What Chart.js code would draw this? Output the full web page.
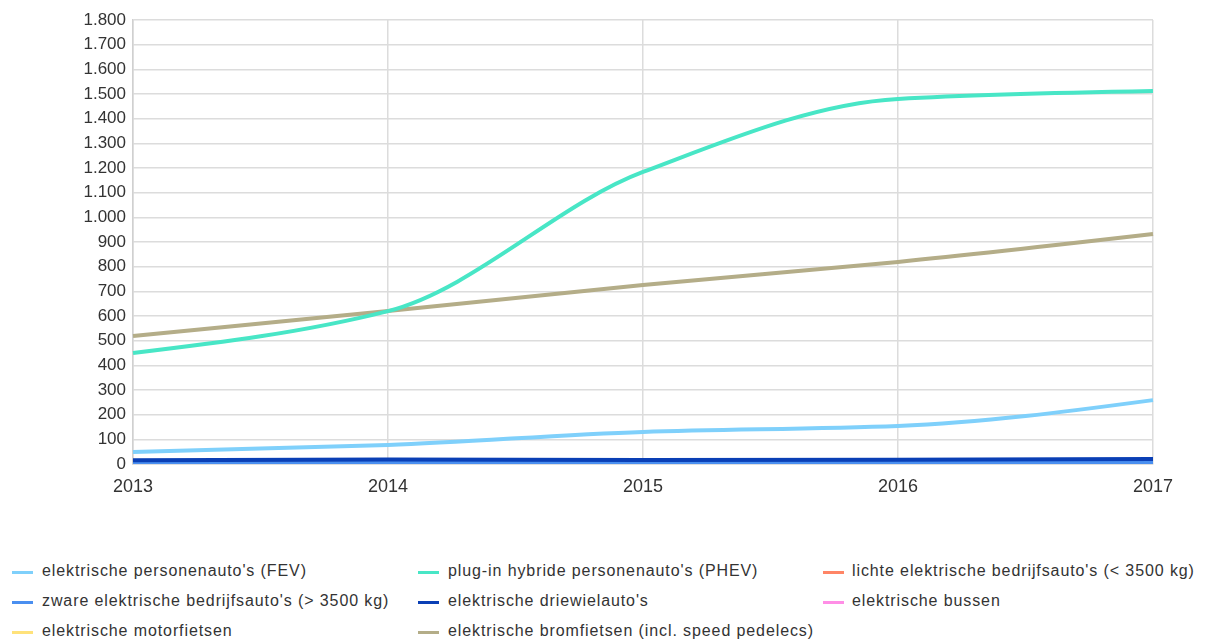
<!DOCTYPE html>
<html>
<head>
<meta charset="utf-8">
<script src="https://cdn.jsdelivr.net/npm/chart.js@4.4.1/dist/chart.umd.min.js"></script>
<style>
  html, body { margin: 0; padding: 0; background: #fff; }
  #wrap { position: relative; width: 1205px; height: 643px; }
  #chartBox { position: absolute; left: 0; top: 0; width: 1205px; height: 510px; }
  .legend-item { position: absolute; height: 20px; font-family: "Liberation Sans", Arial, sans-serif; font-size: 16px; letter-spacing: 0.9px; color: #333; white-space: nowrap; }
  .legend-item .swatch { position: absolute; left: 0; top: 9px; width: 21px; height: 3px; }
  .legend-item .label { position: absolute; top: 0px; }
</style>
</head>
<body>
<div id="wrap">
  <div id="chartBox"><canvas id="myChart"></canvas></div>
  <div id="legend"></div>
</div>
<script>
// data
const years = ["2013", "2014", "2015", "2016", "2017"];

const fev = [49, 77, 130, 154, 259];
const phev = [450, 620, 1184, 1480, 1512];
const lichte = [8, 10, 10, 11, 14];
const zware = [3, 4, 4, 5, 6];
const driewiel = [15, 18, 16, 17, 20];
const bussen = [1, 2, 2, 3, 4];
const motorfietsen = [2, 3, 3, 4, 5];
const bromfietsen = [519, 620, 726, 819, 932];

const seriesNames = [
    "elektrische personenauto's (FEV)",
    "plug-in hybride personenauto's (PHEV)",
    "lichte elektrische bedrijfsauto's (< 3500 kg)",
    "zware elektrische bedrijfsauto's (> 3500 kg)",
    "elektrische driewielauto's",
    "elektrische bussen",
    "elektrische motorfietsen",
    "elektrische bromfietsen (incl. speed pedelecs)"
];
const seriesValues = [fev, phev, lichte, zware, driewiel, bussen, motorfietsen, bromfietsen];
const seriesColors = ["#7fd0fb", "#48e6c6", "#ff8566", "#4a8ff0", "#0a3fb5", "#ff8ee6", "#ffe27a", "#b4ad88"];

// draw order: small ones first so the big lines sit on top
const drawOrder = [6, 5, 2, 3, 4, 0, 7, 1];

const yTicks = [];
for (let v = 0; v <= 1800; v += 100) yTicks.push(v);

function fmt(v) {
    return v.toString().replace(/\B(?=(\d{3})+(?!\d))/g, ".");
}

// smoother curve: tangents = harmonic mean of neighbouring slopes (flatter at the knees)
const harmonicSpline = {
    id: "harmonicSpline",
    beforeDatasetDraw(chart, args) {
        const line = args.meta.dataset;
        const pts = args.meta.data;
        const n = pts.length;
        if (!line || n < 3) return;
        const s = [];
        for (let i = 0; i < n - 1; i++) {
            s.push((pts[i + 1].y - pts[i].y) / (pts[i + 1].x - pts[i].x));
        }
        const m = new Array(n).fill(0);
        for (let i = 1; i < n - 1; i++) {
            m[i] = s[i - 1] * s[i] > 0 ? 2 * s[i - 1] * s[i] / (s[i - 1] + s[i]) : 0;
        }
        m[0] = (3 * s[0] - m[1]) / 2;
        if (m[0] * s[0] < 0) m[0] = 0;
        m[n - 1] = (3 * s[n - 2] - m[n - 2]) / 2;
        if (m[n - 1] * s[n - 2] < 0) m[n - 1] = 0;
        for (let i = 0; i < n; i++) {
            const p = pts[i];
            const hPrev = i > 0 ? (p.x - pts[i - 1].x) / 3 : 0;
            const hNext = i < n - 1 ? (pts[i + 1].x - p.x) / 3 : 0;
            p.cp1x = p.x - hPrev;
            p.cp1y = p.y - m[i] * hPrev;
            p.cp2x = p.x + hNext;
            p.cp2y = p.y + m[i] * hNext;
        }
        line._pointsUpdated = true;
        line._path = undefined;
    }
};

/////////////////////////////// chart ///////////////////////////////
const ctx = document.getElementById("myChart").getContext("2d");
new Chart(ctx, {
    type: "line",
    data: {
        labels: years,
        datasets: seriesNames.map((name, i) => ({
            label: name,
            data: seriesValues[i],
            borderColor: seriesColors[i],
            backgroundColor: seriesColors[i],
            borderWidth: 4,
            pointRadius: 0,
            tension: 0.4,
            order: drawOrder.length - drawOrder.indexOf(i)
        }))
    },
    plugins: [harmonicSpline],
    options: {
        responsive: true,
        maintainAspectRatio: false,
        animation: false,
        layout: { padding: { top: 20, right: 52, left: 0, bottom: 0 } },
        plugins: {
            legend: { display: false },
            tooltip: { enabled: false }
        },
        scales: {
            x: {
                offset: false,
                grid: { color: "#dcdcdc", lineWidth: 1.5, drawTicks: false },
                border: { color: "#d0d0d0", width: 1.5 },
                ticks: {
                    color: "#333",
                    padding: 12,
                    maxRotation: 0,
                    font: { family: "'Liberation Sans', Arial, sans-serif", size: 18 }
                },
                afterFit: scale => { scale.height = 46; }
            },
            y: {
                min: 0,
                max: 1800,
                afterBuildTicks: scale => { scale.ticks = yTicks.map(v => ({ value: v })); },
                grid: { color: "#dcdcdc", lineWidth: 1.5, drawTicks: false },
                border: { color: "#d0d0d0", width: 1.5 },
                ticks: {
                    color: "#333",
                    padding: 7,
                    callback: v => fmt(v),
                    font: { family: "'Liberation Sans', Arial, sans-serif", size: 17 }
                },
                afterFit: scale => { scale.width = 133; }
            }
        }
    }
});

/////////////////////////////// legend ///////////////////////////////
const legend = document.getElementById("legend");
const colX = [12, 418, 823];
const rowY = [562, 592, 622];
const textOffset = [30, 30, 29];
seriesNames.forEach((name, i) => {
    const col = i % 3, row = Math.floor(i / 3);
    const item = document.createElement("div");
    item.className = "legend-item";
    item.style.left = colX[col] + "px";
    item.style.top = rowY[row] + "px";
    item.innerHTML = '<span class="swatch" style="background:' + seriesColors[i] + '"></span>' +
        '<span class="label" style="left:' + textOffset[col] + 'px"></span>';
    item.querySelector(".label").textContent = name;
    legend.appendChild(item);
});
</script>
</body>
</html>
